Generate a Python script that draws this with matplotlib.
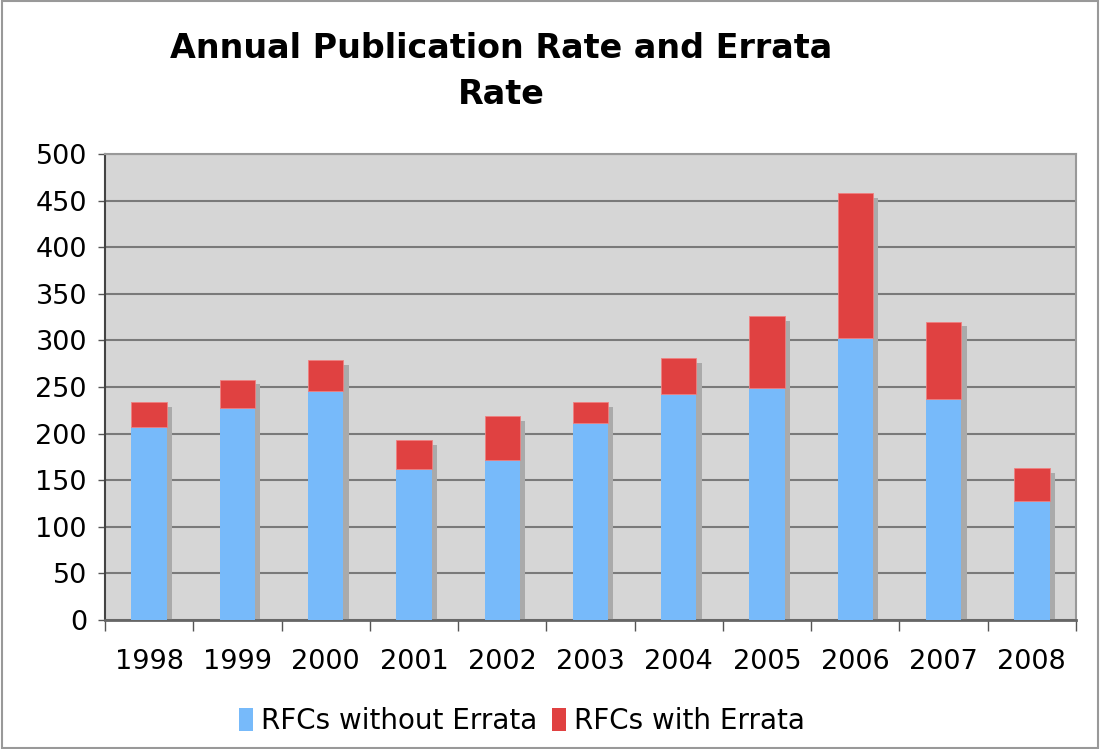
import matplotlib
matplotlib.use("Agg")
import matplotlib.pyplot as plt
from matplotlib.patches import Rectangle, Patch
import numpy as np

years = ["1998", "1999", "2000", "2001", "2002", "2003", "2004", "2005", "2006", "2007", "2008"]
without_errata = [207, 227, 246, 162, 172, 211, 242, 249, 303, 237, 128]
with_errata = [27, 31, 33, 31, 47, 23, 39, 77, 155, 83, 35]
yticks = [0, 50, 100, 150, 200, 250, 300, 350, 400, 450, 500]

BLUE = "#77BAFA"
RED = "#E04141"
BG = "#D6D6D6"

plt.rcParams['font.family'] = ['DejaVu Sans']

fig = plt.figure(figsize=(11, 7.49), dpi=100)
ax = fig.add_axes([105/1100, (749-620)/749, (1076-105)/1100, (620-154)/749])
ax.set_facecolor(BG)

x = np.arange(len(years))
w = 0.4
totals = np.array(without_errata) + np.array(with_errata)

# shadow
ax.bar(x + 0.06, totals - 5, width=w, color="#AAAAAA", zorder=2)
ax.bar(x, without_errata, width=w, color=BLUE, zorder=3, label="RFCs without Errata")
ax.bar(x, with_errata, width=w, bottom=without_errata, color=RED, zorder=3,
       edgecolor="#F08080", linewidth=0.6, label="RFCs with Errata")

ax.set_xlim(-0.5, len(years) - 0.5)
ax.set_ylim(0, 500)
ax.set_yticks(yticks)
ax.set_yticklabels([str(v) for v in yticks])
ax.yaxis.grid(True, color="#7A7A7A", linewidth=1.5, zorder=1)
ax.set_axisbelow(True)

ax.set_xticks(x)
ax.set_xticklabels(years)
ax.set_xticks(np.arange(-0.5, len(years)), minor=True)
ax.tick_params(axis='x', which='major', length=0, pad=21, labelsize=19.5)
ax.tick_params(axis='x', which='minor', length=8, width=1, color="#555555", direction='out')
ax.tick_params(axis='y', which='major', length=5, width=1, color="#555555", pad=8, labelsize=19.5)

for s in ['top', 'right']:
    ax.spines[s].set_color("#999999")
    ax.spines[s].set_linewidth(1.5)
ax.spines['left'].set_color("#444444")
ax.spines['left'].set_linewidth(1.5)
ax.spines['bottom'].set_color("#666666")
ax.spines['bottom'].set_linewidth(2)

fig.text(501/1100, 1 - 71/749, "Annual Publication Rate and Errata\nRate", ha='center', va='center',
         fontsize=24, fontweight='bold', linespacing=1.5)

handles = [Patch(facecolor=BLUE, edgecolor='none'), Patch(facecolor=RED, edgecolor='none')]
fig.legend(handles, ["RFCs without Errata", "RFCs with Errata"], loc='center',
           bbox_to_anchor=(522/1100, 1 - 721/749), ncol=2, frameon=False, fontsize=20,
           handlelength=0.5, handleheight=0.9, handletextpad=0.3, columnspacing=0.5)

fig.patches.append(Rectangle((0.002, 0.002), 0.996, 0.996, transform=fig.transFigure,
                             fill=False, edgecolor="#999999", linewidth=1.5))

fig.savefig("out.png", dpi=100)
